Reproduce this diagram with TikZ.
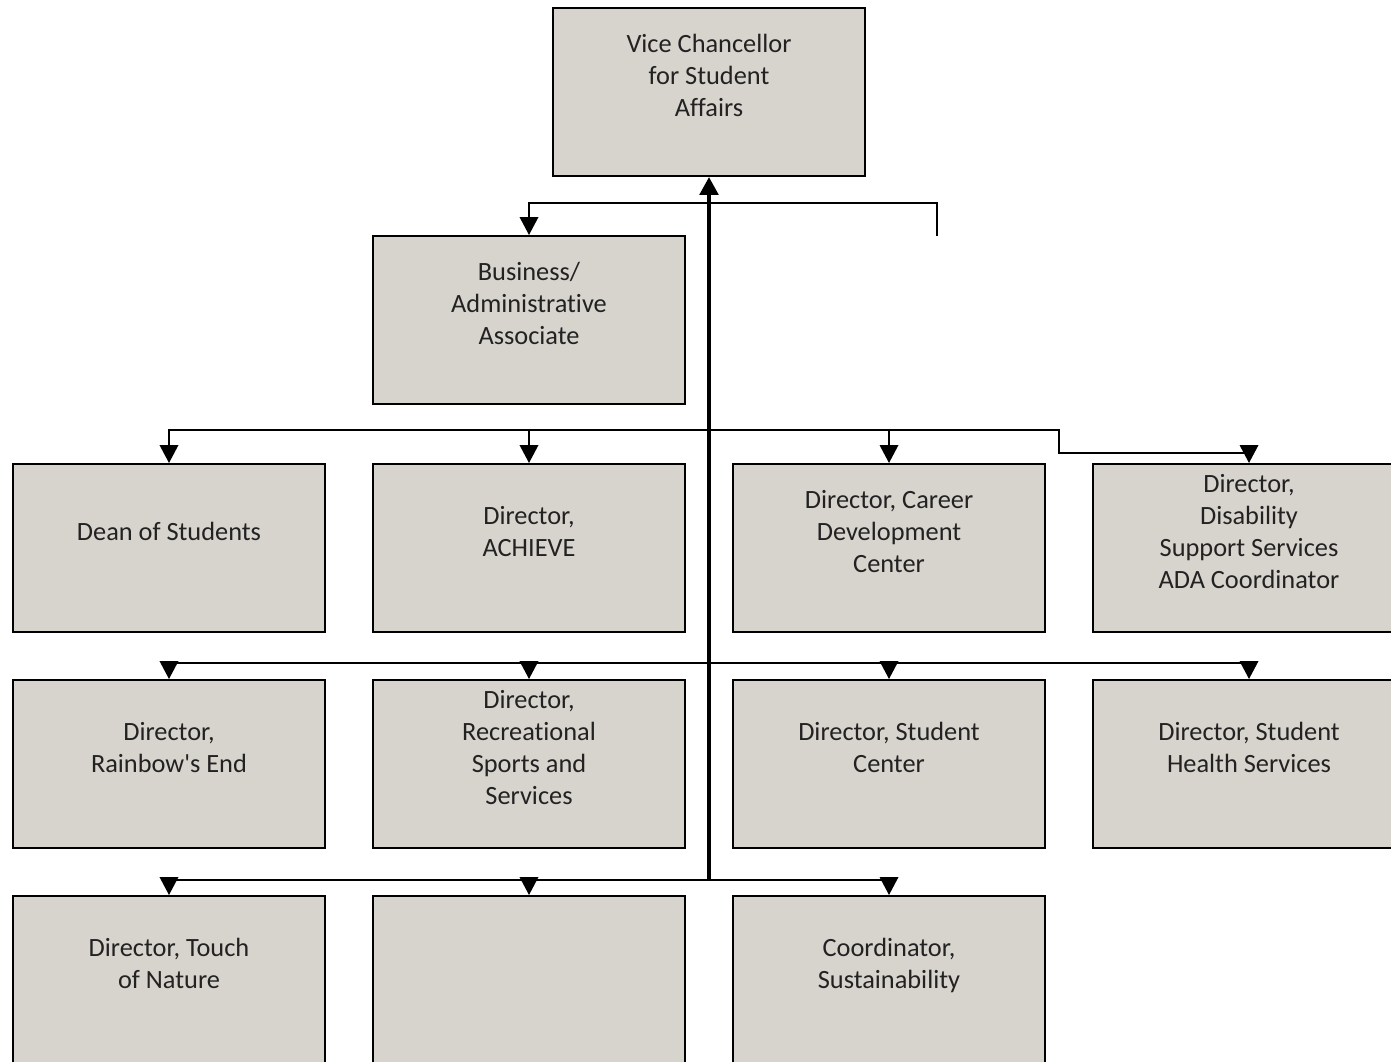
\documentclass[tikz,border=0pt]{standalone}
\usepackage{fontspec}
\setmainfont{Carlito}[Ligatures=NoCommon]
\usepackage{tikz}
\usetikzlibrary{arrows.meta}
\definecolor{boxgray}{RGB}{215,211,205}
\definecolor{inkgray}{RGB}{34,34,34}

\begin{document}
\begin{tikzpicture}[x=0.02cm,y=-0.02cm]

\tikzset{unit/.style = {draw, fill=boxgray, line width=0.04cm, text=inkgray,
    minimum width=6.24cm, minimum height=3.36cm, inner sep=0pt, align=center,
    font=\fontsize{15}{18.2}\selectfont, text depth=0.68cm}}
\tikzset{arc/.style = {->, >={Triangle[width=0.37cm,length=0.36cm]}, line width=0.04cm}}
\tikzset{trunk/.style = {arc, line width=0.08cm}}

\useasboundingbox (0,0) rectangle (1391,1061);

% boxes
\node[unit] (vc) at (709,92) {Vice Chancellor\\for Student\\Affairs};
\node[unit] (biz) at (529,320) {Business/\\Administrative\\Associate};

\node[unit] (dean) at (169,548) {Dean of Students};
\node[unit] (achieve) at (529,548) {Director,\\ACHIEVE};
\node[unit] (career) at (889,548) {Director, Career\\Development\\Center};
\node[unit] (disab) at (1249,548) {Director,\\Disability\\Support Services\\ADA Coordinator};

\node[unit] (rainbow) at (169,764) {Director,\\Rainbow\textquotesingle s End};
\node[unit] (recsports) at (529,764) {Director,\\Recreational\\Sports and\\Services};
\node[unit] (stucenter) at (889,764) {Director, Student\\Center};
\node[unit] (health) at (1249,764) {Director, Student\\Health Services};

\node[unit] (nature) at (169,980) {Director, Touch\\of Nature};
\node[unit] (blank) at (529,980) {};
\node[unit] (sustain) at (889,980) {Coordinator,\\Sustainability};

% junctions
\coordinate (stub) at (937,236);
\coordinate (bar1) at (709,203);
\coordinate (bar2) at (709,430);
\coordinate (jog) at (1059,453);
\coordinate (bar3) at (709,663);
\coordinate (bar4) at (709,880);

% feeds
\draw[arc] (stub) |- (bar1) -| (biz.north);

\draw[arc] (bar2) -| (dean.north);
\draw[arc] (bar2) -| (achieve.north);
\draw[arc] (bar2) -| (career.north);
\draw[arc] (bar2) -| (jog) -| (disab.north);

\draw[arc] (bar3) -| (rainbow.north);
\draw[arc] (bar3) -| (recsports.north);
\draw[arc] (bar3) -| (stucenter.north);
\draw[arc] (bar3) -| (health.north);

\draw[arc] (bar4) -| (nature.north);
\draw[arc] (bar4) -| (blank.north);
\draw[arc] (bar4) -| (sustain.north);

% trunk
\draw[trunk] (bar4) -- (vc.south);

\end{tikzpicture}
\end{document}
